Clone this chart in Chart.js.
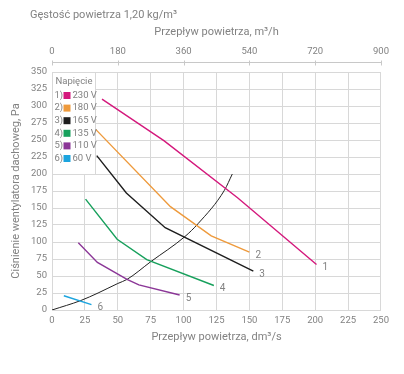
<!DOCTYPE html>
<html>
<head>
<meta charset="utf-8">
<script src="https://cdn.jsdelivr.net/npm/chart.js@4/dist/chart.umd.min.js"></script>
<style>
  html, body { margin: 0; padding: 0; background: #fff; }
</style>
</head>
<body>
<canvas id="myChart" width="404" height="374"></canvas>
<script>
// Przepływ [dm3/s] i ciśnienie [Pa] dla każdego napięcia
const flow230 = [38, 85, 141, 201];
const pres230 = [310, 249, 165, 67];
const flow180 = [33, 90, 121, 150];
const pres180 = [266, 152, 109, 85];
const flow165 = [34, 56.5, 86, 153];
const pres165 = [227, 172, 121, 57];
const flow135 = [25.5, 49.5, 72, 123];
const pres135 = [163, 104, 74, 36];
const flow110 = [20, 34.5, 57, 66, 97];
const pres110 = [99, 70, 45, 37, 22];
const flow60 = [9, 30];
const pres60 = [21, 8];

// charakterystyka instalacji
const flowSys = [0, 22, 35, 50, 57, 75, 101, 111, 131, 137];
const presSys = [0, 14, 25, 39, 45, 71, 108, 127, 176, 200];

const voltages = ['230 V', '180 V', '165 V', '135 V', '110 V', '60 V'];
const curveNames = ['1', '2', '3', '4', '5', '6'];
const colors = ['#d4187c', '#ee9a3c', '#1e1e1e', '#17a05c', '#8b3697', '#1ca4de'];

const xTicksDm = [0, 25, 50, 75, 100, 125, 150, 175, 200, 225, 250];
const xTicksM3h = [0, 180, 360, 540, 720, 900];
const yTicks = [0, 25, 50, 75, 100, 125, 150, 175, 200, 225, 250, 275, 300, 325, 350];

const textGray = '#828282';
const gridGray = '#d8d8d8';
const FONT = 'Roboto, "Liberation Sans", sans-serif';

function pts(xs, ys) {
  return xs.map((x, i) => ({ x: x, y: ys[i] }));
}

const flows = [flow230, flow180, flow165, flow135, flow110, flow60];
const press = [pres230, pres180, pres165, pres135, pres110, pres60];

const datasets = flows.map((f, i) => ({
  label: voltages[i],
  endLabel: curveNames[i],
  data: pts(f, press[i]),
  borderColor: colors[i],
  borderWidth: 1.4,
  pointRadius: 0,
  tension: 0,
  fill: false
}));

datasets.push({
  label: 'instalacja',
  data: pts(flowSys, presSys),
  borderColor: '#222',
  borderWidth: 1,
  pointRadius: 0,
  cubicInterpolationMode: 'monotone',
  fill: false
});

//Dodatki: tytul, gorna os, opisy krzywych, legenda
const extras = {
  id: 'extras',
  afterDraw(chart) {
    const ctx = chart.ctx;
    const xs = chart.scales.x;
    const ys = chart.scales.y;
    const top = chart.scales.x2;
    ctx.save();

    ctx.fillStyle = textGray;
    ctx.font = '11px ' + FONT;
    ctx.textAlign = 'left';
    ctx.textBaseline = 'middle';
    ctx.fillText('Gęstość powietrza 1,20 kg/m³', 30, 15);

    // linia gornej osi
    const ly = top.bottom - 9.5;
    ctx.strokeStyle = '#c8c8c8';
    ctx.lineWidth = 1;
    ctx.beginPath();
    ctx.moveTo(top.left, ly);
    ctx.lineTo(top.right, ly);
    xTicksM3h.forEach(v => {
      const px = Math.round(top.getPixelForValue(v)) + 0.5;
      ctx.moveTo(px, ly - 2);
      ctx.lineTo(px, ly + 3);
    });
    ctx.stroke();

    // numery krzywych
    ctx.font = '10px ' + FONT;
    chart.data.datasets.forEach((ds, i) => {
      if (!ds.endLabel) return;
      const meta = chart.getDatasetMeta(i);
      const p = meta.data[meta.data.length - 1];
      ctx.fillText(ds.endLabel, p.x + 6, p.y + 3);
    });

    // legenda
    const bx = Math.round(xs.getPixelForValue(0)) + 0.5;
    const by = Math.round(ys.getPixelForValue(350)) + 0.5;
    const bb = Math.round(ys.getPixelForValue(200)) + 0.5;
    const bw = 43;
    ctx.fillStyle = '#fff';
    ctx.fillRect(bx, by, bw, bb - by);
    ctx.strokeStyle = gridGray;
    ctx.strokeRect(bx, by, bw, bb - by);

    ctx.fillStyle = textGray;
    ctx.font = '9.5px ' + FONT;
    ctx.fillText('Napięcie', bx + 3, by + 9);
    voltages.forEach((v, i) => {
      const ry = by + 23 + i * 12.6;
      ctx.fillStyle = textGray;
      ctx.fillText((i + 1) + ')', bx + 2, ry);
      ctx.fillStyle = colors[i];
      ctx.fillRect(bx + 11, ry - 3.5, 7, 7);
      ctx.fillStyle = textGray;
      ctx.fillText(v, bx + 20, ry);
    });
    ctx.restore();
  }
};

const ctx = document.getElementById('myChart').getContext('2d');
const myChart = new Chart(ctx, {
  type: 'line',
  data: { datasets: datasets },
  plugins: [extras],
  options: {
    responsive: false,
    animation: false,
    layout: { padding: { left: 0, right: 19, top: 0, bottom: 0 } },
    plugins: {
      legend: { display: false },
      tooltip: { enabled: false }
    },
    scales: {
      x: {
        type: 'linear',
        position: 'bottom',
        min: 0,
        max: 250,
        afterBuildTicks: s => { s.ticks = xTicksDm.map(v => ({ value: v })); },
        afterFit: s => { s.height = 64; },
        ticks: { color: textGray, font: { family: FONT, size: 9.5 }, padding: 5, maxRotation: 0 },
        grid: { color: gridGray, drawTicks: false },
        border: { color: gridGray },
        title: {
          display: true,
          text: 'Przepływ powietrza, dm³/s',
          color: textGray,
          font: { family: FONT, size: 11 },
          padding: { top: 0, bottom: 30 }
        }
      },
      x2: {
        type: 'linear',
        axis: 'x',
        position: 'top',
        min: 0,
        max: 900,
        afterBuildTicks: s => { s.ticks = xTicksM3h.map(v => ({ value: v })); },
        afterFit: s => { s.height = 72; },
        ticks: { color: textGray, font: { family: FONT, size: 9.5 }, padding: 15, maxRotation: 0 },
        grid: { display: false, drawTicks: false },
        border: { display: false },
        title: {
          display: true,
          text: 'Przepływ powietrza, m³/h',
          color: textGray,
          font: { family: FONT, size: 11 },
          padding: { top: 26, bottom: 0 }
        }
      },
      y: {
        min: 0,
        max: 350,
        afterBuildTicks: s => { s.ticks = yTicks.map(v => ({ value: v })); },
        afterFit: s => { s.width = 52; },
        ticks: { color: textGray, font: { family: FONT, size: 9.5 }, padding: 5 },
        grid: { color: gridGray, drawTicks: false },
        border: { color: gridGray },
        title: {
          display: true,
          text: 'Ciśnienie wentylatora dachoweg, Pa',
          color: textGray,
          font: { family: FONT, size: 11 },
          padding: { top: 10, bottom: 0 }
        }
      }
    }
  }
});
</script>
</body>
</html>
